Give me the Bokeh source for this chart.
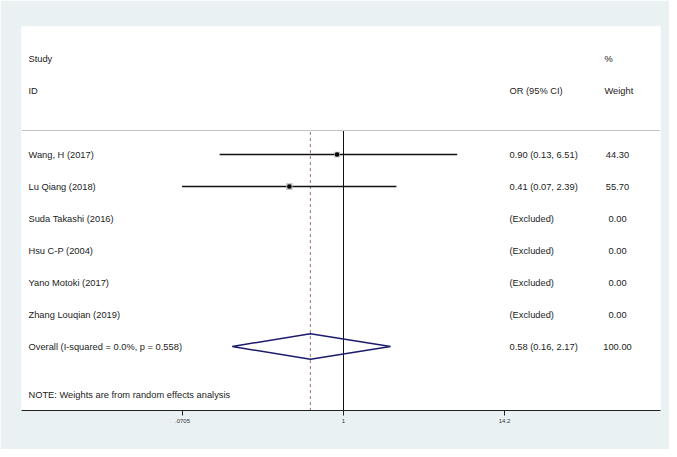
import math
from bokeh.plotting import figure
from bokeh.models import Range1d, FixedTicker, Span
from bokeh.core.properties import value
from bokeh.embed import file_html
from bokeh.resources import INLINE

# ---------------- data ----------------
studies = ["Wang, H (2017)", "Lu Qiang (2018)", "Suda Takashi (2016)",
           "Hsu C-P (2004)", "Yano Motoki (2017)", "Zhang Louqian (2019)"]
or_est = [0.90, 0.41, None, None, None, None]
ci_low = [0.13, 0.07, None, None, None, None]
ci_high = [6.51, 2.39, None, None, None, None]
weights = [44.30, 55.70, 0.00, 0.00, 0.00, 0.00]

overall_label = "Overall  (I-squared = 0.0%, p = 0.558)"
overall_est = 0.58
overall_low = 0.16
overall_high = 2.17
overall_weight = 100.00

note_text = "NOTE: Weights are from random effects analysis"
tick_values = [0.0705, 1, 14.2]
tick_labels = [".0705", "1", "14.2"]

# ---------------- layout helpers ----------------
PX0 = 343.0      # page x of OR = 1
PX_PER_LN = 60.7


def px2x(px):
    return math.exp((px - PX0) / PX_PER_LN)


FONT = value("Liberation Sans")
TXT = "#222222"
BG = "#e9f1f3"

p = figure(width=669, height=449, output_backend="svg", toolbar_location=None,
           x_axis_type="log", y_axis_location=None,
           x_range=Range1d(px2x(21), px2x(660)),
           y_range=Range1d(8, -4),
           min_border_left=21, min_border_right=9,
           min_border_top=26, min_border_bottom=39)
p.background_fill_color = "white"
p.border_fill_color = BG
p.outline_line_color = None
p.xgrid.visible = False
p.ygrid.visible = False

ax = p.xaxis[0]
ax.ticker = FixedTicker(ticks=tick_values, minor_ticks=[])
ax.major_label_overrides = {v: l for v, l in zip(tick_values, tick_labels)}
ax.major_label_text_font = "Liberation Sans"
ax.major_label_text_font_size = "6px"
ax.major_label_text_color = "#333333"
ax.major_label_standoff = 3
ax.major_tick_in = 0
ax.major_tick_out = 5
ax.minor_tick_in = 0
ax.minor_tick_out = 0
ax.axis_line_color = "#222222"
ax.major_tick_line_color = "#222222"

n = len(studies)
rows = list(range(n))
overall_row = n
sep_y = -0.75

# separator line
p.add_layout(Span(location=sep_y, dimension="width", line_color="#c4c4c4", line_width=1))

# null line and overall dashed line
p.segment(x0=[1], y0=[sep_y], x1=[1], y1=[8], line_color="#111111", line_width=1)
p.segment(x0=[overall_est], y0=[sep_y + 0.05], x1=[overall_est], y1=[8],
          line_color="#a88890", line_width=1.2, line_dash="3 3")

# CIs and points
ci_rows = [r for r, e in zip(rows, or_est) if e is not None]
p.segment(x0=[ci_low[r] for r in ci_rows], y0=ci_rows,
          x1=[ci_high[r] for r in ci_rows], y1=ci_rows,
          line_color="#111111", line_width=1.5)
p.scatter(x=[or_est[r] for r in ci_rows], y=ci_rows, marker="square",
          size=[math.sqrt(weights[r]) * 0.85 for r in ci_rows],
          fill_color="#b8b8b8", line_color=None)
p.scatter(x=[or_est[r] for r in ci_rows], y=ci_rows, marker="circle",
          size=4.5, fill_color="black", line_color=None)

# overall diamond
p.patch(x=[overall_low, overall_est, overall_high, overall_est],
        y=[overall_row, overall_row - 0.4, overall_row, overall_row + 0.4],
        fill_color=None, line_color="#1c1c6b", line_width=1.5)

# ---------------- texts ----------------
def txt(xs, ys, texts, align="left"):
    p.text(x=xs, y=ys, text=texts, text_font=FONT, text_font_size="9.3px",
           text_color=TXT, text_baseline="middle", text_align=align)

x_study = px2x(28)
x_or = px2x(509)
x_wt_left = px2x(604)
x_wt_center = px2x(617)

# headers
txt([x_study, x_study, x_or, x_wt_left, x_wt_left], [-3, -2, -2, -3, -2],
    ["Study", "ID", "OR (95% CI)", "%", "Weight"])

# study rows
or_texts = [("%.2f (%.2f, %.2f)" % (e, l, h)) if e is not None else "(Excluded)"
            for e, l, h in zip(or_est, ci_low, ci_high)]
txt([x_study] * n, rows, studies)
txt([x_or] * n, rows, or_texts)
txt([x_wt_center] * n, rows, ["%.2f" % w for w in weights], align="center")

# overall
txt([x_study], [overall_row], [overall_label])
txt([x_or], [overall_row],
    ["%.2f (%.2f, %.2f)" % (overall_est, overall_low, overall_high)])
txt([x_wt_center], [overall_row], ["%.2f" % overall_weight], align="center")

# note
txt([x_study], [7.5], [note_text])

open("out.html", "w").write(file_html(p, INLINE))
